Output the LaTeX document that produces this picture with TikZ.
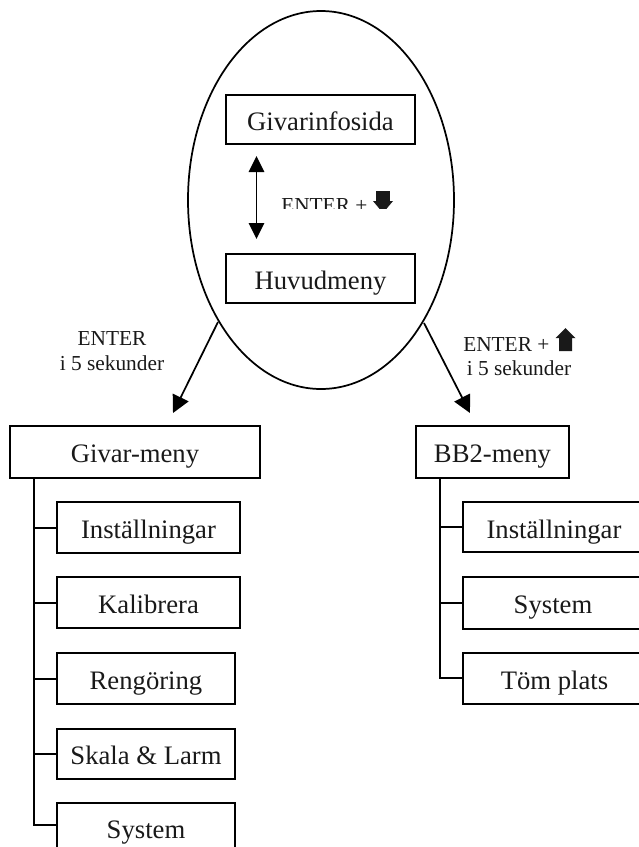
\documentclass[tikz,border=0pt]{standalone}
\usepackage{fontspec}
\setmainfont{Liberation Serif}
\usetikzlibrary{arrows.meta,shapes.geometric}
\tikzset{
  x=0.75pt,y=-0.75pt,
  menubox/.style={draw=black,line width=1.4pt,inner sep=0pt,outer sep=0pt,font=\fontsize{20}{24}\selectfont,text=black!90,text height=16pt,text depth=0.2pt},
  conn/.style={draw=black,line width=1.5pt},
  flow/.style={draw=black,line width=1.3pt,-{Triangle[length=13pt,width=13pt]}},
  captext/.style={font=\fontsize{16}{21}\selectfont,text=black!90,inner sep=0pt},
}
\newcommand{\boxat}[6]{\node[menubox,minimum width=#4*0.75pt-#2*0.75pt,minimum height=#5*0.75pt-#3*0.75pt] (#1) at ({(#2+#4)/2},{(#3+#5)/2}) {#6};}
\newcommand{\upicon}[2]{\fill[black!90] (#1-10,#2) -- (#1,#2-10) -- (#1+10,#2) -- (#1+6.5,#2) -- (#1+6.5,#2+13) -- (#1-6.5,#2+13) -- (#1-6.5,#2) -- cycle;}
\begin{document}
\begin{tikzpicture}
\useasboundingbox (0,0) rectangle (639,847);
\clip (0,0) rectangle (639,847);
\node[draw=black,line width=1.3pt,ellipse,minimum width=266*0.75pt,minimum height=378*0.75pt,inner sep=0pt,outer sep=0pt] (oval) at (321,200) {};
\boxat{info}{226}{95}{415}{144}{Givarinfosida}
\boxat{main}{226}{254}{415}{303}{Huvudmeny}
\coordinate (a1) at (256.5,156);
\coordinate (a2) at (256.5,239);
\draw[draw=black,line width=1.3pt,{Triangle[length=12pt,width=11.5pt]}-{Triangle[length=12pt,width=11.5pt]}] (a1) -- (a2);
\begin{scope}
\clip (270,180) rectangle (400,208);
\node[captext,anchor=base west] (enterclip) at (281,212) {ENTER +};
\fill[black!90] (376,191) rectangle (390,201);
\fill[black!90] (373,201) -- (393,201) -- (383,213) -- cycle;
\end{scope}
\boxat{gm}{10}{426}{260}{478}{Givar-meny}
\boxat{g1}{57}{502}{240}{553}{Inställningar}
\boxat{g2}{57}{577}{240}{628}{Kalibrera}
\boxat{g3}{57}{653}{235}{704}{Rengöring}
\boxat{g4}{57}{729}{235}{779}{Skala \& Larm}
\boxat{g5}{57}{803}{235}{857}{}
\node[menubox,draw=none,anchor=base] (g5t) at (146,838) {System};
\boxat{bm}{416}{426}{569}{478}{BB2-meny}
\boxat{b1}{463}{502}{650}{552}{}
\node[menubox,draw=none,anchor=base] (b1t) at (554,538) {Inställningar};
\boxat{b2}{463}{577}{650}{629}{}
\node[menubox,draw=none,anchor=base] (b2t) at (553,613) {System};
\boxat{b3}{463}{653}{650}{704}{}
\node[menubox,draw=none,anchor=base] (b3t) at (554.5,689) {Töm plats};
\coordinate (gv) at (34,478);
\coordinate (gend) at (34,825);
\draw[conn] (gv) -- (gend) -- (g5.west |- gend);
\foreach \n in {g1,g2,g3,g4}{\draw[conn] (gv |- \n.west) -- (\n.west);}
\coordinate (bv) at (440,478);
\coordinate (bend) at (440,678);
\draw[conn] (bv) -- (bend) -- (b3.west |- bend);
\foreach \n in {b1,b2}{\draw[conn] (bv |- \n.west) -- (\n.west);}
\coordinate (l1) at (218,322);
\coordinate (l2) at (173,413);
\coordinate (r1) at (424,323);
\coordinate (r2) at (470,413);
\draw[flow] (l1) -- (l2);
\draw[flow] (r1) -- (r2);
\node[captext,anchor=base] (ltext1) at (112,345) {ENTER};
\node[captext,anchor=base] (ltext2) at (112,370) {i 5 sekunder};
\node[captext,anchor=base west] (rtext1) at (463,351) {ENTER +};
\node[captext,anchor=base] (rtext2) at (519,375) {i 5 sekunder};
\upicon{565.5}{338}
\end{tikzpicture}
\end{document}
